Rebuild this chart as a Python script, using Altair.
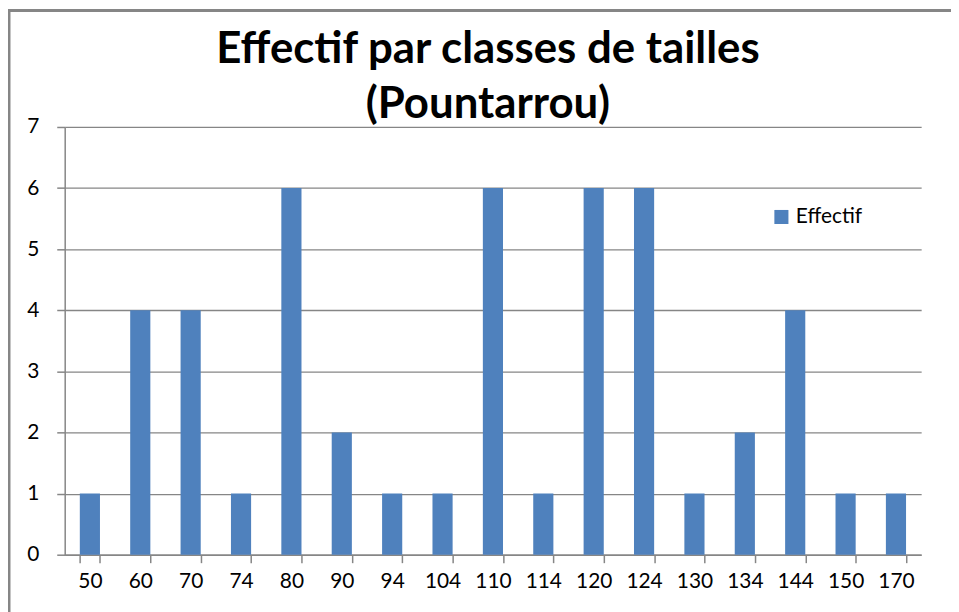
import altair as alt
import pandas as pd

categories = ["50", "60", "70", "74", "80", "90", "94", "104", "110", "114",
              "120", "124", "130", "134", "144", "150", "170"]
effectif = [1, 4, 4, 1, 6, 2, 1, 1, 6, 1, 6, 6, 1, 2, 4, 1, 1]
series = "Effectif"
title_lines = ["Effectif par classes de tailles", "(Pountarrou)"]

df = pd.DataFrame({"classe": categories, "effectif": effectif, "serie": [series] * len(categories)})

W, H = 861, 430
FONT = "Lato"
GRAY = "#868686"

bars = alt.Chart(df).mark_bar(color="#4F81BD").encode(
    x=alt.X("classe:N", sort=categories, title=None,
            scale=alt.Scale(paddingInner=0.6, paddingOuter=0.3),
            axis=alt.Axis(labelAngle=0, tickBand="extent", labelFontSize=21, labelFont=FONT,
                          labelColor="black", domainColor=GRAY, tickColor=GRAY, tickSize=8,
                          labelPadding=8, grid=False, domainWidth=1.5, tickWidth=1.5)),
    y=alt.Y("effectif:Q", title=None,
            scale=alt.Scale(domain=[0, 7]),
            axis=alt.Axis(values=list(range(8)), labelFontSize=21, labelFont=FONT,
                          labelColor="black", domainColor=GRAY, tickColor=GRAY, tickSize=8,
                          labelPadding=18, gridColor=GRAY, gridWidth=1.3,
                          domainWidth=1.5, tickWidth=1.5)),
    color=alt.Color("serie:N", scale=alt.Scale(range=["#4F81BD"]),
                    legend=alt.Legend(orient="none", legendX=710, legendY=80, title=None,
                                      symbolType="square", symbolSize=200, labelFontSize=21,
                                      labelFont=FONT, labelColor="black",
                                      symbolStrokeWidth=0)),
)

border_df = pd.DataFrame({"k": [0]})
left_border = alt.Chart(border_df).mark_rule(color=GRAY, strokeWidth=3).encode(
    x=alt.value(-56), y=alt.value(-118), y2=alt.value(H + 60))
top_border = alt.Chart(border_df).mark_rule(color=GRAY, strokeWidth=3).encode(
    x=alt.value(-57), x2=alt.value(W + 40), y=alt.value(-117))

title1 = alt.Chart(border_df).mark_text(font=FONT, fontSize=44, fontWeight="bold",
                                        color="black", baseline="alphabetic").encode(
    x=alt.value(W / 2 - 5), y=alt.value(-64), text=alt.value(title_lines[0]))
title2 = alt.Chart(border_df).mark_text(font=FONT, fontSize=44, fontWeight="bold",
                                        color="black", baseline="alphabetic").encode(
    x=alt.value(W / 2 - 5), y=alt.value(-9), text=alt.value(title_lines[1]))

chart = alt.layer(bars, left_border, top_border, title1, title2).properties(
    width=W, height=H,
    autosize=alt.AutoSizeParams(type="none"),
    padding={"left": 57, "top": 118, "right": 30, "bottom": 56},
).configure_view(strokeWidth=0)

chart.save("out.html", embed_options={"renderer": "svg", "actions": False})
